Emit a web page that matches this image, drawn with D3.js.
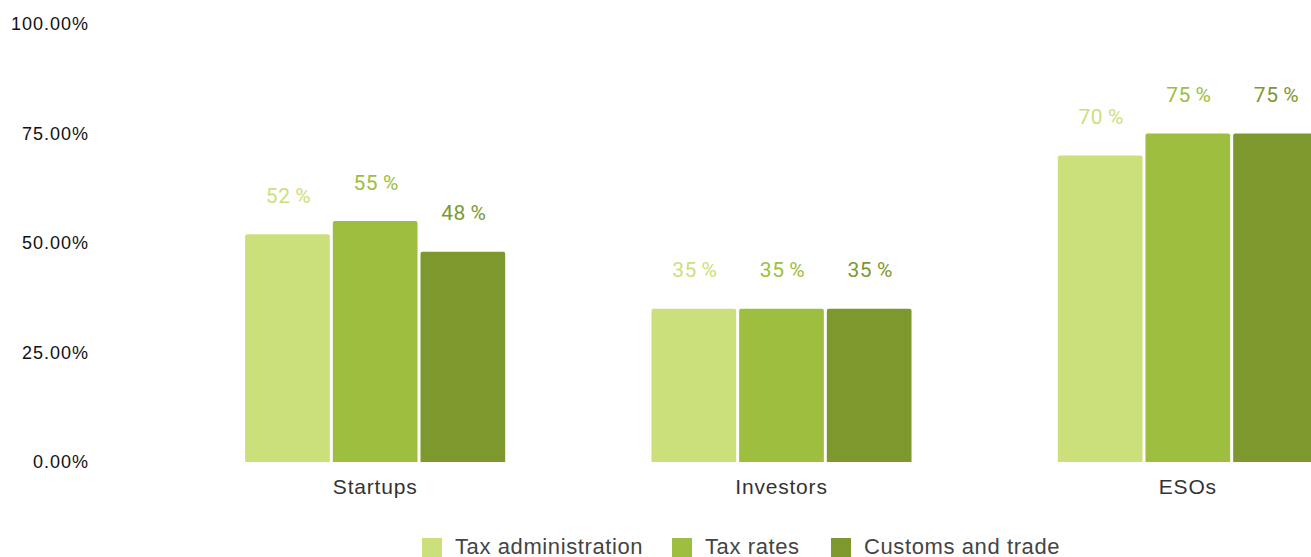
<!DOCTYPE html>
<html>
<head>
<meta charset="utf-8">
<script src="https://cdn.jsdelivr.net/npm/d3@7"></script>
<style>
  html, body { margin: 0; padding: 0; background: #fff; overflow: hidden; }
  svg { display: block; }
</style>
</head>
<body>
<svg id="chart" width="1311" height="557"></svg>
<script>
// Survey results by group and tax topic (percent of respondents)
const categories = ["Startups", "Investors", "ESOs"];
const seriesNames = ["Tax administration", "Tax rates", "Customs and trade"];
const taxAdministration = [52, 35, 70];
const taxRates = [55, 35, 75];
const customsAndTrade = [48, 35, 75];
const yTicks = [0, 25, 50, 75, 100];
const colors = ["#cbdf7a", "#9dbe3e", "#7d992e"];

const seriesValues = [taxAdministration, taxRates, customsAndTrade];

const svg = d3.select("#chart");

const y = d3.scaleLinear().domain([0, 100]).range([462, 24]);

// Outer bands run past the right edge, so the last bar is cut off by the frame
const x0 = d3.scaleBand()
  .domain(categories)
  .range([172, 1391])
  .paddingInner(0.36)
  .paddingOuter(0.18);

const x1 = d3.scaleBand()
  .domain(seriesNames)
  .range([0, x0.bandwidth()])
  .paddingInner(0.034);

// Y axis labels
const yAxis = d3.axisLeft(y)
  .tickValues(yTicks)
  .tickSize(0)
  .tickPadding(0)
  .tickFormat(d => d3.format(".2f")(d) + "%");

svg.append("g")
  .attr("transform", "translate(89,0)")
  .call(yAxis)
  .call(g => g.select(".domain").remove())
  .selectAll("text")
  .attr("font-family", "Liberation Sans, Arial, sans-serif")
  .attr("font-size", 18)
  .attr("letter-spacing", "1px")
  .attr("fill", "#111");

// Category axis labels
const xAxis = d3.axisBottom(x0).tickSize(0).tickPadding(0);
svg.append("g")
  .attr("transform", "translate(0,479)")
  .call(xAxis)
  .call(g => g.select(".domain").remove())
  .selectAll("text")
  .attr("font-family", "Liberation Sans, Arial, sans-serif")
  .attr("font-size", 21)
  .attr("letter-spacing", "0.8px")
  .attr("fill", "#333");

// Bar with slightly rounded top corners
function barPath(x, yTop, w, yBottom, r) {
  return `M${x},${yBottom}V${yTop + r}Q${x},${yTop} ${x + r},${yTop}` +
         `H${x + w - r}Q${x + w},${yTop} ${x + w},${yTop + r}V${yBottom}Z`;
}

const rows = categories.map((c, i) => ({
  category: c,
  items: seriesNames.map((s, j) => ({ series: s, value: seriesValues[j][i], color: colors[j] }))
}));

const groups = svg.append("g").selectAll("g")
  .data(rows)
  .join("g")
  .attr("transform", d => `translate(${x0(d.category)},0)`);

groups.selectAll("path")
  .data(d => d.items)
  .join("path")
  .attr("d", d => barPath(x1(d.series), y(d.value), x1.bandwidth(), y(0), 2))
  .attr("fill", d => d.color);

groups.selectAll("text.value")
  .data(d => d.items)
  .join("text")
  .attr("class", "value")
  .attr("x", d => x1(d.series) + x1.bandwidth() / 2 + 1)
  .attr("y", d => y(d.value) - 37)
  .attr("text-anchor", "middle")
  .attr("dominant-baseline", "middle")
  .attr("font-family", "Roboto, sans-serif")
  .attr("font-size", 21)
  .attr("letter-spacing", "0.5px")
  .attr("fill", d => d.color)
  .text(d => d.value + "\u2009%");

// Legend
const legendX = [422, 672, 831];
const legend = svg.append("g").selectAll("g")
  .data(seriesNames)
  .join("g")
  .attr("transform", (d, i) => `translate(${legendX[i]},538)`);

legend.append("rect")
  .attr("width", 20)
  .attr("height", 19)
  .attr("fill", (d, i) => colors[i]);

legend.append("text")
  .attr("x", 33)
  .attr("y", 16)
  .attr("font-family", "Liberation Sans, Arial, sans-serif")
  .attr("font-size", 22)
  .attr("letter-spacing", "0.6px")
  .attr("fill", "#444")
  .text(d => d);
</script>
</body>
</html>
